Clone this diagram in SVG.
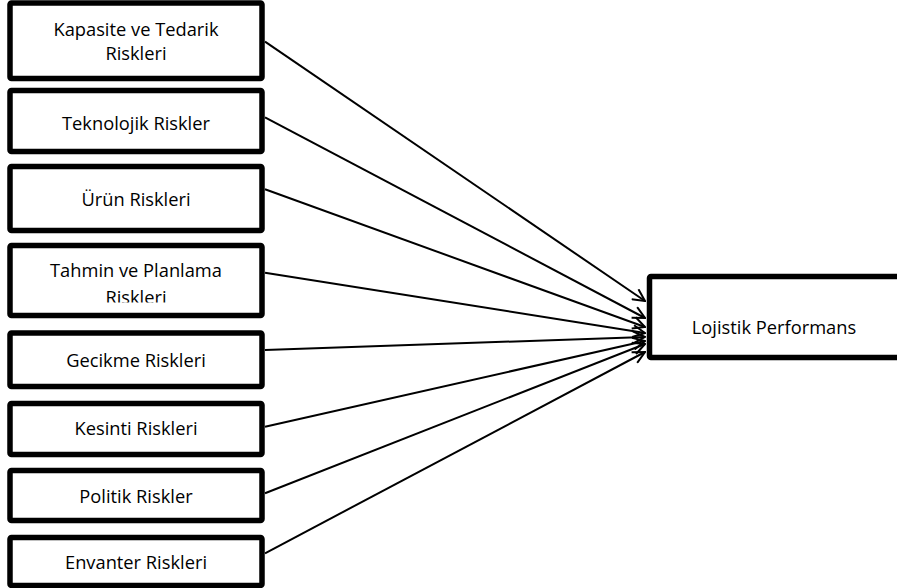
<svg xmlns="http://www.w3.org/2000/svg" width="897" height="588" viewBox="0 0 897 588">
<style>
.box{fill:#fff;stroke:#000;stroke-width:5.5;}
.t{font-family:"Open Sans","Liberation Sans",sans-serif;font-size:18.3px;fill:#000;text-anchor:middle;}
.c{stroke:#000;stroke-width:2;fill:none;}
</style>
<defs>
<marker id="arr" viewBox="0 0 14 14" refX="13" refY="7" markerWidth="14" markerHeight="14" markerUnits="userSpaceOnUse" orient="auto">
<path d="M1,1 L13,7 L1,13" fill="none" stroke="#000" stroke-width="2"/>
</marker>
<clipPath id="clip4"><rect x="0" y="240" width="270" height="62.5"/></clipPath>
</defs>
<rect width="897" height="588" fill="#fff"/>
<g id="connectors">
<line class="c" x1="265" y1="41.7" x2="645" y2="301" marker-end="url(#arr)"/>
<line class="c" x1="265" y1="117.3" x2="645" y2="318" marker-end="url(#arr)"/>
<line class="c" x1="265" y1="189.3" x2="645" y2="327" marker-end="url(#arr)"/>
<line class="c" x1="265" y1="272.7" x2="645" y2="333" marker-end="url(#arr)"/>
<line class="c" x1="265" y1="350" x2="645" y2="337" marker-end="url(#arr)"/>
<line class="c" x1="265" y1="426.7" x2="645" y2="341" marker-end="url(#arr)"/>
<line class="c" x1="265" y1="493.3" x2="645" y2="344" marker-end="url(#arr)"/>
<line class="c" x1="265" y1="553.3" x2="645" y2="352" marker-end="url(#arr)"/>
</g>
<g id="n1"><rect class="box" x="10" y="3" width="252" height="75.5" rx="1.5"/>
<text class="t" x="136" y="36">Kapasite ve Tedarik</text><text class="t" x="136" y="60">Riskleri</text></g>
<g id="n2"><rect class="box" x="10" y="90.5" width="252" height="61" rx="1.5"/>
<text class="t" x="136" y="130">Teknolojik Riskler</text></g>
<g id="n3"><rect class="box" x="10" y="166.5" width="252" height="64" rx="1.5"/>
<text class="t" x="136" y="206">Ürün Riskleri</text></g>
<g id="n4"><rect class="box" x="10" y="245.5" width="252" height="70" rx="1.5"/>
<g clip-path="url(#clip4)"><text class="t" x="136" y="276.7">Tahmin ve Planlama</text><text class="t" x="136" y="303.5">Riskleri</text></g></g>
<g id="n5"><rect class="box" x="10" y="333" width="252" height="53.5" rx="1.5"/>
<text class="t" x="136" y="366.7">Gecikme Riskleri</text></g>
<g id="n6"><rect class="box" x="10" y="403.5" width="252" height="51" rx="1.5"/>
<text class="t" x="136" y="435">Kesinti Riskleri</text></g>
<g id="n7"><rect class="box" x="10" y="470.5" width="252" height="50" rx="1.5"/>
<text class="t" x="136" y="502.7">Politik Riskler</text></g>
<g id="n8"><rect class="box" x="10" y="537.5" width="252" height="48" rx="1.5"/>
<text class="t" x="136" y="569.3">Envanter Riskleri</text></g>
<g id="n9"><rect class="box" x="649.5" y="276.5" width="260" height="81" rx="1.5"/>
<text class="t" x="774" y="334">Lojistik Performans</text></g>
</svg>
